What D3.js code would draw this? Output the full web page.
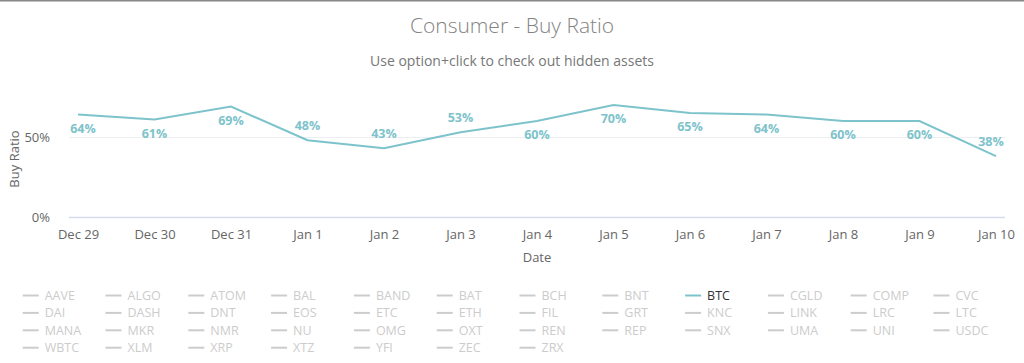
<!DOCTYPE html>
<html>
<head>
<meta charset="utf-8">
<script src="https://cdn.jsdelivr.net/npm/d3@7/dist/d3.min.js"></script>
<style>
  body { margin: 0; background: #fff; }
  svg { display: block; font-family: "Open Sans", sans-serif; }
</style>
</head>
<body>
<div id="chart"></div>
<script>
// data
const dates = ['Dec 29', 'Dec 30', 'Dec 31', 'Jan 1', 'Jan 2', 'Jan 3', 'Jan 4',
  'Jan 5', 'Jan 6', 'Jan 7', 'Jan 8', 'Jan 9', 'Jan 10']
const btcRatio = [64, 61, 69, 48, 43, 53, 60, 70, 65, 64, 60, 60, 38]
const yTicks = [0, 50]
const assets = ['AAVE', 'ALGO', 'ATOM', 'BAL', 'BAND', 'BAT', 'BCH', 'BNT', 'BTC', 'CGLD', 'COMP', 'CVC',
  'DAI', 'DASH', 'DNT', 'EOS', 'ETC', 'ETH', 'FIL', 'GRT', 'KNC', 'LINK', 'LRC', 'LTC',
  'MANA', 'MKR', 'NMR', 'NU', 'OMG', 'OXT', 'REN', 'REP', 'SNX', 'UMA', 'UNI', 'USDC',
  'WBTC', 'XLM', 'XRP', 'XTZ', 'YFI', 'ZEC', 'ZRX']
const visibleAsset = 'BTC'

const width = 1024, height = 363
const lineColor = '#7dc3cb'

// plot area
let plotLeft = 69, plotRight = 1005
let plotTop = 101, plotBottom = 217

let svg = d3.select('#chart')
  .append('svg')
  .attr('width', width)
  .attr('height', height)

// thin frame line at the very top
svg.append('rect')
  .attr('x', 0).attr('y', 0)
  .attr('width', width).attr('height', 1.5)
  .attr('fill', '#888')

svg.append('text')
  .attr('x', width / 2).attr('y', 33)
  .attr('text-anchor', 'middle')
  .attr('font-size', 21)
  .attr('font-weight', 300)
  .attr('fill', '#838383')
  .text('Consumer - Buy Ratio')

svg.append('text')
  .attr('x', width / 2).attr('y', 66)
  .attr('text-anchor', 'middle')
  .attr('font-size', 14)
  .attr('fill', '#777')
  .text('Use option+click to check out hidden assets')

let x = d3.scalePoint()
  .domain(dates)
  .range([78, 996])

let y = d3.scaleLinear()
  .domain([0, 50])
  .range([plotBottom, 137])

// gridlines
svg.append('g')
  .selectAll('line')
  .data(yTicks)
  .join('line')
  .attr('x1', plotLeft).attr('x2', plotRight)
  .attr('y1', d => y(d) + 0.5).attr('y2', d => y(d) + 0.5)
  .attr('stroke', d => d === 0 ? '#d6dcef' : '#eceef2')
  .attr('stroke-width', d => d === 0 ? 1.5 : 1)

// y axis labels
let yAxis = svg.append('g')
  .attr('transform', `translate(${plotLeft - 16},0)`)
  .call(d3.axisLeft(y).tickValues(yTicks).tickSize(0).tickFormat(d => d + '%'))
yAxis.select('.domain').remove()
yAxis.selectAll('text')
  .attr('font-family', '"Open Sans", sans-serif')
  .attr('font-size', 13)
  .attr('fill', '#666')
  .attr('dy', '0.35em')

// x axis labels
let xAxis = svg.append('g')
  .attr('transform', `translate(0,${plotBottom + 10})`)
  .call(d3.axisBottom(x).tickSize(0))
xAxis.select('.domain').remove()
xAxis.selectAll('text')
  .attr('font-family', '"Open Sans", sans-serif')
  .attr('font-size', 13)
  .attr('fill', '#666')

// axis titles
svg.append('text')
  .attr('x', (plotLeft + plotRight) / 2).attr('y', 262)
  .attr('text-anchor', 'middle')
  .attr('font-size', 13)
  .attr('fill', '#666')
  .text('Date')

svg.append('text')
  .attr('transform', `translate(19,${(plotTop + plotBottom) / 2}) rotate(-90)`)
  .attr('text-anchor', 'middle')
  .attr('font-size', 13)
  .attr('fill', '#666')
  .text('Buy Ratio')

// the line
let line = d3.line()
  .x((d, i) => x(dates[i]))
  .y(d => y(d))

svg.append('path')
  .datum(btcRatio)
  .attr('d', line)
  .attr('fill', 'none')
  .attr('stroke', lineColor)
  .attr('stroke-width', 2)

// data labels: above the point, flipped below when they would leave the plot area
function labelY(d) {
  let above = y(d) - 15
  return above - 6 < plotTop ? y(d) + 14 : above
}

svg.append('g')
  .selectAll('text')
  .data(btcRatio)
  .join('text')
  .attr('x', (d, i) => {
    let cx = x(dates[i])
    return Math.min(Math.max(cx, plotLeft + 14), plotRight - 14)
  })
  .attr('y', labelY)
  .attr('dy', '0.35em')
  .attr('text-anchor', 'middle')
  .attr('font-size', 12.5)
  .attr('font-weight', 'bold')
  .attr('fill', lineColor)
  .text(d => d + '%')

// legend
let cols = 12
let legend = svg.append('g')
  .selectAll('g')
  .data(assets)
  .join('g')
  .attr('transform', (d, i) => `translate(${22.7 + (i % cols) * 82.8},${295.5 + Math.floor(i / cols) * 17.4})`)

legend.append('line')
  .attr('x1', 0).attr('x2', 16)
  .attr('y1', 0).attr('y2', 0)
  .attr('stroke', d => d === visibleAsset ? lineColor : '#cccccc')
  .attr('stroke-width', 2)

legend.append('text')
  .attr('x', 22)
  .attr('dy', '0.35em')
  .attr('font-size', 12.5)
  .attr('fill', d => d === visibleAsset ? '#333' : '#cccccc')
  .text(d => d)
</script>
</body>
</html>
